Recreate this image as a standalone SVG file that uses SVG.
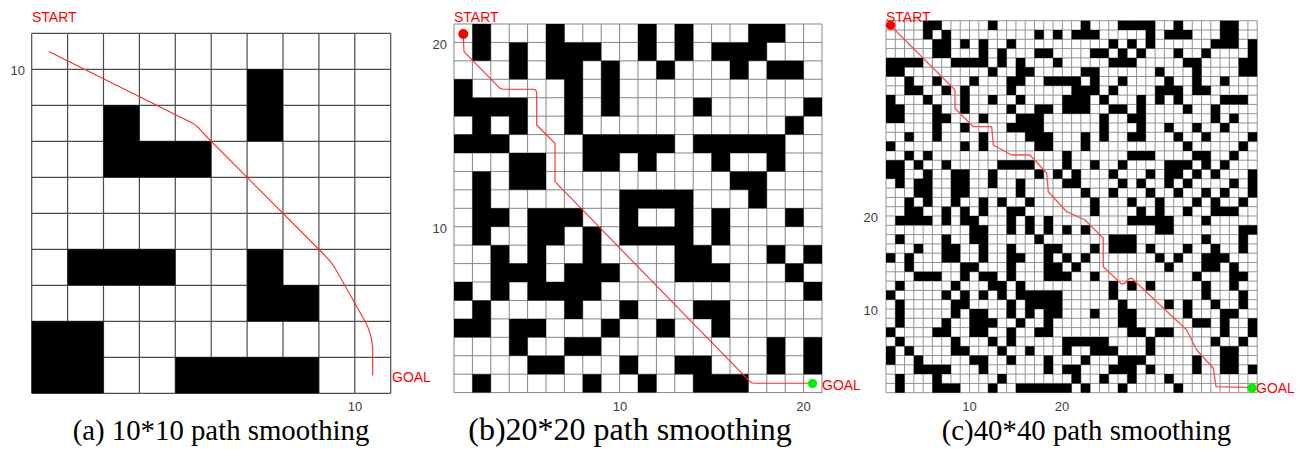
<svg xmlns="http://www.w3.org/2000/svg" width="1306" height="449" viewBox="0 0 1306 449">
<style>
.bg{fill:#ffffff}
.obst{fill:#000000;stroke:none}
.gridA{fill:none;stroke:#4d4d4d;stroke-width:1.2}
.gridB{fill:none;stroke:#858585;stroke-width:1}
.gridC{fill:none;stroke:#939393;stroke-width:1}
.route{fill:none;stroke:#ff2a2a;stroke-width:1.1;stroke-linejoin:round;stroke-linecap:round}
.routeC{fill:none;stroke:#ff4a4a;stroke-width:1.3;stroke-linejoin:round;stroke-linecap:round}
.lbl{font-family:"Liberation Sans",Arial,sans-serif;font-size:14px;fill:#ff0000}
.axis{font-family:"Liberation Sans",Arial,sans-serif;font-size:13px;fill:#404040}
.cap{font-family:"Liberation Serif","Times New Roman",serif;font-size:28.8px;fill:#000000}
</style>
<rect class="bg" x="0" y="0" width="1306" height="449"/>

<!-- Panel (a) 10x10 -->
<g id="panel-a">
  <g transform="translate(31.7,33.3) scale(35.9,36)">
    <path class="gridA" vector-effect="non-scaling-stroke" d="M0 0V10M1 0V10M2 0V10M3 0V10M4 0V10M5 0V10M6 0V10M7 0V10M8 0V10M9 0V10M10 0V10M0 0H10M0 1H10M0 2H10M0 3H10M0 4H10M0 5H10M0 6H10M0 7H10M0 8H10M0 9H10M0 10H10"/>
    <path class="obst" d="M6 1h1v2h-1zM2 2h1v1h-1zM2 3h3v1h-3zM1 6h3v1h-3zM6 6h1v1h-1zM6 7h2v1h-2zM0 8h2v2h-2zM4 9h4v1h-4z"/>
  </g>
  <text class="lbl" x="32" y="21.5">START</text>
  <text class="lbl" x="392" y="382">GOAL</text>
  <text class="axis" x="25" y="75" text-anchor="end">10</text>
  <text class="axis" x="355" y="410.5" text-anchor="middle">10</text>
  <text class="cap" x="221" y="440" text-anchor="middle">(a) 10*10 path smoothing</text>
</g>

<!-- Panel (b) 20x20 -->
<g id="panel-b">
  <g transform="translate(454,24) scale(18.4,18.43)">
    <path class="gridB" vector-effect="non-scaling-stroke" d="M0 0V20M1 0V20M2 0V20M3 0V20M4 0V20M5 0V20M6 0V20M7 0V20M8 0V20M9 0V20M10 0V20M11 0V20M12 0V20M13 0V20M14 0V20M15 0V20M16 0V20M17 0V20M18 0V20M19 0V20M20 0V20M0 0H20M0 1H20M0 2H20M0 3H20M0 4H20M0 5H20M0 6H20M0 7H20M0 8H20M0 9H20M0 10H20M0 11H20M0 12H20M0 13H20M0 14H20M0 15H20M0 16H20M0 17H20M0 18H20M0 19H20M0 20H20"/>
    <path class="obst" d="M1 0h1v1h-1zM5 0h1v1h-1zM10 0h1v1h-1zM12 0h1v1h-1zM16 0h2v1h-2zM1 1h1v1h-1zM3 1h1v1h-1zM5 1h3v1h-3zM10 1h1v1h-1zM12 1h1v1h-1zM14 1h3v1h-3zM3 2h1v1h-1zM5 2h2v1h-2zM8 2h1v1h-1zM11 2h1v1h-1zM15 2h1v1h-1zM17 2h2v1h-2zM0 3h1v1h-1zM6 3h1v1h-1zM8 3h1v1h-1zM0 4h4v1h-4zM6 4h1v1h-1zM8 4h1v1h-1zM13 4h1v1h-1zM19 4h1v1h-1zM1 5h1v1h-1zM3 5h1v1h-1zM6 5h1v1h-1zM18 5h1v1h-1zM0 6h3v1h-3zM7 6h5v1h-5zM13 6h5v1h-5zM3 7h2v1h-2zM7 7h2v1h-2zM10 7h1v1h-1zM14 7h1v1h-1zM17 7h1v1h-1zM1 8h1v1h-1zM3 8h2v1h-2zM15 8h2v1h-2zM1 9h1v1h-1zM9 9h4v1h-4zM16 9h1v1h-1zM1 10h2v1h-2zM4 10h3v1h-3zM9 10h1v1h-1zM12 10h1v1h-1zM14 10h1v1h-1zM18 10h1v1h-1zM1 11h1v1h-1zM4 11h2v1h-2zM7 11h1v1h-1zM9 11h4v1h-4zM14 11h1v1h-1zM2 12h1v1h-1zM4 12h1v1h-1zM7 12h1v1h-1zM12 12h2v1h-2zM17 12h1v1h-1zM19 12h1v1h-1zM2 13h3v1h-3zM6 13h3v1h-3zM12 13h3v1h-3zM18 13h1v1h-1zM0 14h1v1h-1zM2 14h1v1h-1zM4 14h4v1h-4zM19 14h1v1h-1zM1 15h1v1h-1zM6 15h1v1h-1zM9 15h1v1h-1zM13 15h2v1h-2zM0 16h2v1h-2zM3 16h2v1h-2zM8 16h1v1h-1zM11 16h1v1h-1zM14 16h1v1h-1zM3 17h1v1h-1zM6 17h2v1h-2zM17 17h1v1h-1zM19 17h1v1h-1zM4 18h2v1h-2zM9 18h1v1h-1zM12 18h2v1h-2zM17 18h1v1h-1zM19 18h1v1h-1zM1 19h1v1h-1zM7 19h1v1h-1zM10 19h1v1h-1zM13 19h3v1h-3z"/>
  </g>
  <text class="lbl" x="454" y="21.5">START</text>
  <text class="lbl" x="822" y="390">GOAL</text>
  <text class="axis" x="447" y="48.5" text-anchor="end">20</text>
  <text class="axis" x="447" y="232.5" text-anchor="end">10</text>
  <text class="axis" x="620" y="410.5" text-anchor="middle">10</text>
  <text class="axis" x="803.6" y="410.5" text-anchor="middle">20</text>
  <text class="cap" x="630" y="440" text-anchor="middle" style="font-size:32px">(b)20*20 path smoothing</text>
</g>

<!-- Panel (c) 40x40 -->
<g id="panel-c">
  <g transform="translate(886,20.7) scale(9.28,9.3)">
    <path class="gridC" vector-effect="non-scaling-stroke" d="M0 0V40M1 0V40M2 0V40M3 0V40M4 0V40M5 0V40M6 0V40M7 0V40M8 0V40M9 0V40M10 0V40M11 0V40M12 0V40M13 0V40M14 0V40M15 0V40M16 0V40M17 0V40M18 0V40M19 0V40M20 0V40M21 0V40M22 0V40M23 0V40M24 0V40M25 0V40M26 0V40M27 0V40M28 0V40M29 0V40M30 0V40M31 0V40M32 0V40M33 0V40M34 0V40M35 0V40M36 0V40M37 0V40M38 0V40M39 0V40M40 0V40M0 0H40M0 1H40M0 2H40M0 3H40M0 4H40M0 5H40M0 6H40M0 7H40M0 8H40M0 9H40M0 10H40M0 11H40M0 12H40M0 13H40M0 14H40M0 15H40M0 16H40M0 17H40M0 18H40M0 19H40M0 20H40M0 21H40M0 22H40M0 23H40M0 24H40M0 25H40M0 26H40M0 27H40M0 28H40M0 29H40M0 30H40M0 31H40M0 32H40M0 33H40M0 34H40M0 35H40M0 36H40M0 37H40M0 38H40M0 39H40M0 40H40"/>
    <path class="obst" d="M4 0h2v1h-2zM11 0h1v1h-1zM21 0h1v1h-1zM25 0h4v1h-4zM31 0h1v1h-1zM36 0h2v1h-2zM4 1h1v1h-1zM6 1h1v1h-1zM16 1h1v1h-1zM18 1h1v1h-1zM20 1h3v1h-3zM28 1h1v1h-1zM30 1h3v1h-3zM36 1h2v1h-2zM5 2h2v1h-2zM8 2h1v1h-1zM10 2h1v1h-1zM13 2h1v1h-1zM24 2h1v1h-1zM26 2h1v1h-1zM28 2h1v1h-1zM35 2h3v1h-3zM39 2h1v1h-1zM5 3h2v1h-2zM10 3h1v1h-1zM12 3h1v1h-1zM16 3h2v1h-2zM22 3h2v1h-2zM25 3h1v1h-1zM27 3h1v1h-1zM31 3h1v1h-1zM34 3h1v1h-1zM39 3h1v1h-1zM0 4h4v1h-4zM7 4h4v1h-4zM12 4h1v1h-1zM14 4h1v1h-1zM18 4h1v1h-1zM24 4h3v1h-3zM32 4h2v1h-2zM38 4h2v1h-2zM0 5h2v1h-2zM11 5h1v1h-1zM14 5h2v1h-2zM21 5h2v1h-2zM29 5h1v1h-1zM33 5h1v1h-1zM38 5h2v1h-2zM2 6h1v1h-1zM5 6h1v1h-1zM9 6h1v1h-1zM13 6h2v1h-2zM17 6h4v1h-4zM22 6h1v1h-1zM25 6h1v1h-1zM30 6h1v1h-1zM33 6h1v1h-1zM36 6h1v1h-1zM2 7h2v1h-2zM6 7h1v1h-1zM8 7h1v1h-1zM13 7h1v1h-1zM20 7h3v1h-3zM24 7h1v1h-1zM29 7h3v1h-3zM33 7h2v1h-2zM0 8h1v1h-1zM4 8h1v1h-1zM8 8h1v1h-1zM11 8h1v1h-1zM14 8h1v1h-1zM19 8h3v1h-3zM23 8h1v1h-1zM27 8h1v1h-1zM29 8h1v1h-1zM31 8h1v1h-1zM36 8h3v1h-3zM0 9h2v1h-2zM5 9h1v1h-1zM8 9h1v1h-1zM13 9h1v1h-1zM16 9h2v1h-2zM19 9h3v1h-3zM24 9h2v1h-2zM27 9h1v1h-1zM32 9h1v1h-1zM35 9h1v1h-1zM0 10h2v1h-2zM5 10h2v1h-2zM10 10h1v1h-1zM14 10h3v1h-3zM23 10h1v1h-1zM26 10h2v1h-2zM35 10h1v1h-1zM37 10h1v1h-1zM5 11h1v1h-1zM8 11h1v1h-1zM13 11h4v1h-4zM23 11h1v1h-1zM27 11h1v1h-1zM30 11h1v1h-1zM33 11h1v1h-1zM36 11h1v1h-1zM2 12h1v1h-1zM5 12h1v1h-1zM10 12h1v1h-1zM15 12h3v1h-3zM21 12h1v1h-1zM23 12h1v1h-1zM26 12h2v1h-2zM31 12h1v1h-1zM34 12h1v1h-1zM39 12h1v1h-1zM0 13h1v1h-1zM8 13h1v1h-1zM10 13h1v1h-1zM16 13h2v1h-2zM21 13h1v1h-1zM32 13h1v1h-1zM38 13h1v1h-1zM2 14h1v1h-1zM4 14h1v1h-1zM19 14h1v1h-1zM26 14h3v1h-3zM33 14h2v1h-2zM37 14h1v1h-1zM0 15h2v1h-2zM3 15h1v1h-1zM6 15h1v1h-1zM12 15h4v1h-4zM19 15h1v1h-1zM22 15h1v1h-1zM25 15h1v1h-1zM30 15h3v1h-3zM34 15h1v1h-1zM36 15h1v1h-1zM0 16h2v1h-2zM4 16h1v1h-1zM7 16h2v1h-2zM11 16h1v1h-1zM16 16h1v1h-1zM18 16h1v1h-1zM20 16h1v1h-1zM24 16h1v1h-1zM28 16h1v1h-1zM30 16h2v1h-2zM33 16h1v1h-1zM35 16h1v1h-1zM39 16h1v1h-1zM1 17h1v1h-1zM3 17h2v1h-2zM7 17h2v1h-2zM11 17h1v1h-1zM14 17h1v1h-1zM19 17h2v1h-2zM25 17h1v1h-1zM27 17h1v1h-1zM30 17h1v1h-1zM32 17h1v1h-1zM37 17h1v1h-1zM39 17h1v1h-1zM3 18h2v1h-2zM7 18h2v1h-2zM14 18h1v1h-1zM21 18h1v1h-1zM24 18h1v1h-1zM28 18h1v1h-1zM31 18h1v1h-1zM34 18h1v1h-1zM36 18h1v1h-1zM39 18h1v1h-1zM2 19h1v1h-1zM4 19h1v1h-1zM7 19h1v1h-1zM10 19h1v1h-1zM12 19h1v1h-1zM15 19h1v1h-1zM22 19h1v1h-1zM26 19h1v1h-1zM29 19h1v1h-1zM33 19h1v1h-1zM35 19h1v1h-1zM38 19h1v1h-1zM2 20h2v1h-2zM6 20h1v1h-1zM8 20h1v1h-1zM10 20h1v1h-1zM13 20h2v1h-2zM22 20h1v1h-1zM27 20h1v1h-1zM29 20h1v1h-1zM32 20h1v1h-1zM35 20h3v1h-3zM1 21h4v1h-4zM6 21h1v1h-1zM8 21h2v1h-2zM13 21h1v1h-1zM15 21h1v1h-1zM17 21h1v1h-1zM26 21h5v1h-5zM34 21h1v1h-1zM9 22h2v1h-2zM13 22h1v1h-1zM15 22h1v1h-1zM17 22h1v1h-1zM19 22h1v1h-1zM21 22h1v1h-1zM29 22h2v1h-2zM38 22h2v1h-2zM1 23h1v1h-1zM6 23h1v1h-1zM9 23h2v1h-2zM16 23h1v1h-1zM24 23h3v1h-3zM34 23h1v1h-1zM38 23h1v1h-1zM3 24h1v1h-1zM6 24h2v1h-2zM10 24h1v1h-1zM13 24h1v1h-1zM17 24h2v1h-2zM22 24h1v1h-1zM24 24h3v1h-3zM28 24h1v1h-1zM32 24h1v1h-1zM35 24h1v1h-1zM38 24h1v1h-1zM0 25h1v1h-1zM2 25h1v1h-1zM6 25h2v1h-2zM10 25h1v1h-1zM13 25h2v1h-2zM17 25h1v1h-1zM19 25h1v1h-1zM21 25h1v1h-1zM29 25h1v1h-1zM31 25h1v1h-1zM34 25h3v1h-3zM2 26h1v1h-1zM8 26h2v1h-2zM13 26h1v1h-1zM17 26h2v1h-2zM20 26h1v1h-1zM30 26h1v1h-1zM34 26h2v1h-2zM37 26h1v1h-1zM3 27h3v1h-3zM8 27h1v1h-1zM10 27h2v1h-2zM13 27h1v1h-1zM17 27h3v1h-3zM22 27h1v1h-1zM33 27h1v1h-1zM37 27h2v1h-2zM1 28h1v1h-1zM7 28h1v1h-1zM11 28h2v1h-2zM14 28h1v1h-1zM24 28h1v1h-1zM26 28h1v1h-1zM28 28h1v1h-1zM34 28h1v1h-1zM37 28h1v1h-1zM0 29h1v1h-1zM6 29h1v1h-1zM8 29h1v1h-1zM10 29h1v1h-1zM12 29h1v1h-1zM14 29h5v1h-5zM24 29h1v1h-1zM34 29h1v1h-1zM38 29h1v1h-1zM1 30h1v1h-1zM7 30h2v1h-2zM13 30h1v1h-1zM15 30h4v1h-4zM25 30h1v1h-1zM30 30h1v1h-1zM32 30h1v1h-1zM35 30h1v1h-1zM38 30h1v1h-1zM1 31h1v1h-1zM7 31h1v1h-1zM9 31h2v1h-2zM13 31h1v1h-1zM15 31h1v1h-1zM17 31h2v1h-2zM22 31h1v1h-1zM25 31h2v1h-2zM32 31h1v1h-1zM36 31h2v1h-2zM1 32h1v1h-1zM6 32h1v1h-1zM9 32h3v1h-3zM14 32h1v1h-1zM17 32h1v1h-1zM25 32h2v1h-2zM33 32h2v1h-2zM36 32h1v1h-1zM39 32h1v1h-1zM0 33h1v1h-1zM5 33h2v1h-2zM9 33h2v1h-2zM13 33h1v1h-1zM16 33h2v1h-2zM26 33h2v1h-2zM29 33h2v1h-2zM36 33h1v1h-1zM39 33h1v1h-1zM1 34h1v1h-1zM7 34h1v1h-1zM11 34h1v1h-1zM13 34h1v1h-1zM19 34h5v1h-5zM28 34h1v1h-1zM35 34h1v1h-1zM38 34h1v1h-1zM0 35h1v1h-1zM2 35h1v1h-1zM7 35h2v1h-2zM12 35h1v1h-1zM15 35h1v1h-1zM19 35h1v1h-1zM22 35h3v1h-3zM28 35h1v1h-1zM36 35h2v1h-2zM0 36h1v1h-1zM3 36h1v1h-1zM9 36h2v1h-2zM13 36h1v1h-1zM17 36h1v1h-1zM21 36h1v1h-1zM25 36h3v1h-3zM33 36h1v1h-1zM36 36h2v1h-2zM3 37h4v1h-4zM10 37h1v1h-1zM17 37h1v1h-1zM19 37h2v1h-2zM24 37h3v1h-3zM28 37h1v1h-1zM33 37h1v1h-1zM36 37h2v1h-2zM39 37h1v1h-1zM1 38h1v1h-1zM5 38h1v1h-1zM12 38h1v1h-1zM20 38h1v1h-1zM23 38h1v1h-1zM26 38h1v1h-1zM30 38h1v1h-1zM1 39h1v1h-1zM5 39h3v1h-3zM11 39h1v1h-1zM14 39h6v1h-6zM21 39h1v1h-1zM25 39h1v1h-1zM31 39h1v1h-1z"/>
  </g>
  <text class="lbl" x="886" y="21.5">START</text>
  <text class="lbl" x="1256" y="393">GOAL</text>
  <text class="axis" x="878" y="221.5" text-anchor="end">20</text>
  <text class="axis" x="878" y="314.5" text-anchor="end">10</text>
  <text class="axis" x="969.5" y="410.5" text-anchor="middle">10</text>
  <text class="axis" x="1062" y="410.5" text-anchor="middle">20</text>
  <text class="cap" x="1086.5" y="440" text-anchor="middle">(c)40*40 path smoothing</text>
</g>

<!-- Connectors: smoothed paths and endpoints -->
<g id="connectors">
  <path class="route" d="M49.3 51.7L191.7 122.7Q198 126 203 133L318.5 249Q330 260 335 268L366 323Q371 333 372.7 346.7L372.7 375"/>
  <path class="route" d="M463.3 34L464 51.7L500 88.3Q501.5 89.3 504 89.3L533 89.3Q536.7 89.5 536.7 93.3L536.7 125L555 143.3L555 181.7L750 381.7Q751.5 383.3 754 383.3L810 383.3"/>
  <path class="routeC" d="M890 25L955 90L955 108.3L973.3 126.7L991.7 126.7L993.3 145L1011.7 155L1030 155L1046.7 173.3L1048.3 191.7L1066.7 211.7L1085 220L1103.3 238.3L1103.3 266.7L1120.7 283.3Q1124 285 1127 281Q1129 278 1131.7 278.3L1186.7 330L1196.7 350L1213.3 368.3L1216 386.7L1251.7 387.7"/>
  <circle cx="463.3" cy="34" r="5" fill="#ff0000"/>
  <circle cx="812.5" cy="383.5" r="4.6" fill="#00ee00"/>
  <circle cx="890.6" cy="25.2" r="4.7" fill="#ff0000"/>
  <circle cx="1252" cy="388" r="4.7" fill="#00ee00"/>
</g>
</svg>
